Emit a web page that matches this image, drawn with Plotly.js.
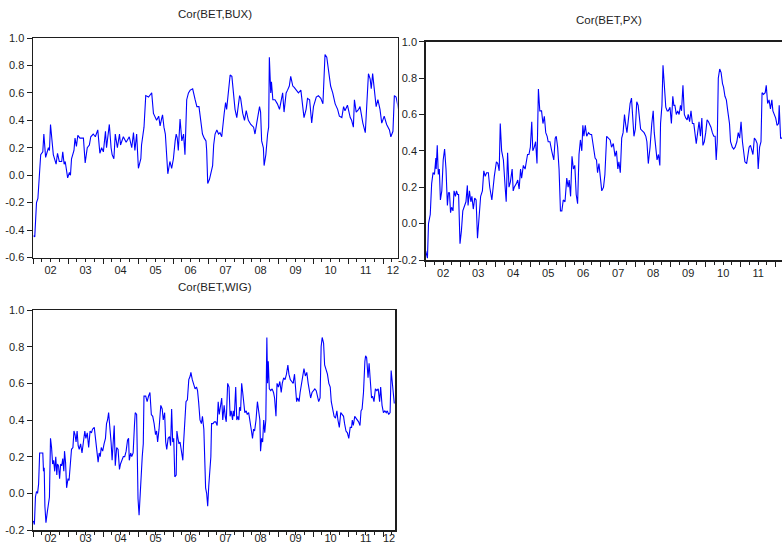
<!DOCTYPE html>
<html><head><meta charset="utf-8">
<script src="https://cdn.plot.ly/plotly-3.0.1.min.js"></script>
<style>html,body{margin:0;padding:0;background:#fff}#chart{width:782px;height:547px}</style>
</head><body><div id="chart"></div>
<script>
// ---- data (decimal year, rolling correlation) ----
const yearLabels = ["02","03","04","05","06","07","08","09","10","11","12"];
const titles = ["Cor(BET,BUX)","Cor(BET,PX)","Cor(BET,WIG)"];
const yTicksBUX = [-0.6,-0.4,-0.2,0.0,0.2,0.4,0.6,0.8,1.0];
const yTicksPX  = [-0.2,0.0,0.2,0.4,0.6,0.8,1.0];
const yTicksWIG = [-0.2,0.0,0.2,0.4,0.6,0.8,1.0];

const BUX = [[2002.02,-0.44],[2002.05,-0.45],[2002.10,-0.20],[2002.14,-0.17],[2002.22,0.15],[2002.28,0.17],[2002.31,0.30],[2002.36,0.13],[2002.44,0.20],[2002.47,0.18],[2002.50,0.37],[2002.54,0.22],[2002.58,0.15],[2002.66,0.08],[2002.70,0.16],[2002.75,0.10],[2002.82,0.10],[2002.85,0.17],[2002.89,0.08],[2002.92,0.10],[2002.99,-0.02],[2003.04,0.02],[2003.07,0.00],[2003.10,0.12],[2003.17,0.18],[2003.20,0.27],[2003.24,0.21],[2003.28,0.29],[2003.34,0.27],[2003.44,0.27],[2003.49,0.09],[2003.55,0.20],[2003.61,0.22],[2003.65,0.28],[2003.72,0.30],[2003.78,0.28],[2003.85,0.33],[2003.91,0.16],[2003.96,0.20],[2004.01,0.17],[2004.07,0.32],[2004.10,0.20],[2004.18,0.37],[2004.23,0.20],[2004.26,0.15],[2004.31,0.12],[2004.35,0.30],[2004.41,0.20],[2004.47,0.30],[2004.50,0.22],[2004.58,0.28],[2004.66,0.24],[2004.75,0.28],[2004.82,0.20],[2004.87,0.31],[2004.91,0.18],[2004.96,0.30],[2005.01,0.05],[2005.08,0.12],[2005.10,0.22],[2005.13,0.30],[2005.17,0.35],[2005.22,0.58],[2005.30,0.57],[2005.36,0.59],[2005.39,0.60],[2005.44,0.45],[2005.49,0.42],[2005.53,0.40],[2005.59,0.43],[2005.63,0.36],[2005.68,0.42],[2005.70,0.44],[2005.74,0.35],[2005.78,0.30],[2005.85,0.01],[2005.91,0.10],[2005.96,0.05],[2006.01,0.12],[2006.06,0.25],[2006.09,0.30],[2006.12,0.27],[2006.15,0.18],[2006.20,0.41],[2006.25,0.25],[2006.30,0.30],[2006.34,0.15],[2006.39,0.55],[2006.44,0.60],[2006.49,0.62],[2006.56,0.63],[2006.63,0.55],[2006.68,0.50],[2006.74,0.50],[2006.77,0.45],[2006.84,0.30],[2006.89,0.27],[2006.94,0.25],[2006.96,0.18],[2006.99,-0.06],[2007.04,-0.03],[2007.10,0.05],[2007.13,0.07],[2007.16,0.22],[2007.20,0.30],[2007.25,0.33],[2007.30,0.30],[2007.34,0.31],[2007.39,0.28],[2007.46,0.45],[2007.50,0.53],[2007.53,0.48],[2007.56,0.56],[2007.63,0.73],[2007.68,0.72],[2007.72,0.60],[2007.77,0.48],[2007.82,0.42],[2007.90,0.58],[2007.93,0.56],[2007.99,0.45],[2008.04,0.40],[2008.09,0.47],[2008.15,0.40],[2008.22,0.37],[2008.30,0.35],[2008.34,0.30],[2008.39,0.38],[2008.47,0.50],[2008.50,0.46],[2008.53,0.25],[2008.58,0.20],[2008.60,0.07],[2008.65,0.15],[2008.68,0.30],[2008.70,0.30],[2008.73,0.35],[2008.75,0.86],[2008.79,0.60],[2008.81,0.68],[2008.85,0.55],[2008.91,0.55],[2008.98,0.52],[2009.04,0.48],[2009.10,0.56],[2009.13,0.60],[2009.17,0.46],[2009.23,0.60],[2009.27,0.62],[2009.32,0.65],[2009.36,0.72],[2009.42,0.65],[2009.46,0.64],[2009.51,0.62],[2009.58,0.60],[2009.65,0.62],[2009.70,0.50],[2009.74,0.42],[2009.80,0.48],[2009.84,0.56],[2009.90,0.55],[2009.96,0.38],[2010.01,0.50],[2010.09,0.57],[2010.15,0.58],[2010.22,0.56],[2010.28,0.52],[2010.34,0.88],[2010.39,0.86],[2010.47,0.73],[2010.50,0.65],[2010.56,0.60],[2010.63,0.52],[2010.70,0.48],[2010.75,0.43],[2010.82,0.42],[2010.87,0.50],[2010.91,0.47],[2010.98,0.51],[2011.06,0.42],[2011.10,0.40],[2011.15,0.35],[2011.18,0.55],[2011.23,0.46],[2011.30,0.48],[2011.34,0.50],[2011.42,0.38],[2011.49,0.31],[2011.53,0.50],[2011.58,0.74],[2011.63,0.70],[2011.66,0.63],[2011.70,0.74],[2011.75,0.62],[2011.80,0.50],[2011.85,0.55],[2011.91,0.48],[2011.96,0.38],[2012.03,0.43],[2012.10,0.37],[2012.18,0.33],[2012.22,0.28],[2012.28,0.32],[2012.32,0.58],[2012.37,0.57],[2012.44,0.48]];

const PX = [[2002.00,-0.15],[2002.05,-0.19],[2002.08,0.00],[2002.13,0.05],[2002.17,0.22],[2002.21,0.28],[2002.25,0.27],[2002.29,0.36],[2002.30,0.30],[2002.33,0.43],[2002.36,0.27],[2002.39,0.30],[2002.42,0.13],[2002.46,0.18],[2002.50,0.35],[2002.54,0.41],[2002.58,0.30],[2002.62,0.10],[2002.65,0.17],[2002.68,0.17],[2002.71,0.06],[2002.74,0.09],[2002.78,0.07],[2002.81,0.18],[2002.85,0.15],[2002.88,0.18],[2002.91,0.16],[2002.94,0.16],[2002.98,-0.11],[2003.02,-0.04],[2003.06,0.07],[2003.10,0.09],[2003.15,0.12],[2003.19,0.21],[2003.21,0.10],[2003.25,0.18],[2003.29,0.12],[2003.32,0.15],[2003.36,0.08],[2003.40,0.14],[2003.44,0.13],[2003.48,-0.08],[2003.52,0.05],[2003.57,0.15],[2003.62,0.18],[2003.66,0.29],[2003.70,0.26],[2003.74,0.28],[2003.79,0.28],[2003.83,0.20],[2003.89,0.13],[2003.92,0.20],[2003.96,0.26],[2004.02,0.34],[2004.06,0.33],[2004.10,0.29],[2004.13,0.55],[2004.17,0.40],[2004.22,0.35],[2004.27,0.20],[2004.30,0.12],[2004.34,0.39],[2004.38,0.20],[2004.42,0.23],[2004.47,0.30],[2004.50,0.18],[2004.53,0.20],[2004.59,0.22],[2004.63,0.24],[2004.67,0.19],[2004.71,0.30],[2004.74,0.25],[2004.79,0.32],[2004.84,0.30],[2004.88,0.36],[2004.91,0.38],[2004.95,0.38],[2004.99,0.42],[2005.03,0.56],[2005.06,0.40],[2005.10,0.42],[2005.14,0.45],[2005.18,0.33],[2005.22,0.74],[2005.26,0.62],[2005.31,0.62],[2005.35,0.55],[2005.39,0.59],[2005.43,0.50],[2005.47,0.48],[2005.50,0.45],[2005.55,0.45],[2005.60,0.40],[2005.66,0.35],[2005.70,0.47],[2005.73,0.48],[2005.77,0.42],[2005.81,0.30],[2005.85,0.07],[2005.89,0.07],[2005.93,0.13],[2005.98,0.12],[2006.03,0.25],[2006.07,0.20],[2006.10,0.24],[2006.14,0.15],[2006.18,0.37],[2006.22,0.30],[2006.26,0.32],[2006.30,0.16],[2006.34,0.11],[2006.38,0.38],[2006.42,0.46],[2006.46,0.40],[2006.49,0.54],[2006.52,0.48],[2006.56,0.54],[2006.60,0.48],[2006.65,0.50],[2006.70,0.49],[2006.74,0.49],[2006.79,0.43],[2006.84,0.36],[2006.88,0.35],[2006.91,0.28],[2006.95,0.33],[2007.00,0.25],[2007.03,0.18],[2007.08,0.20],[2007.12,0.27],[2007.17,0.48],[2007.22,0.47],[2007.27,0.46],[2007.31,0.42],[2007.36,0.44],[2007.41,0.37],[2007.45,0.40],[2007.49,0.30],[2007.52,0.34],[2007.56,0.28],[2007.60,0.47],[2007.64,0.50],[2007.68,0.60],[2007.71,0.55],[2007.75,0.50],[2007.79,0.57],[2007.84,0.66],[2007.88,0.69],[2007.91,0.60],[2007.95,0.48],[2007.99,0.52],[2008.03,0.67],[2008.07,0.65],[2008.10,0.57],[2008.14,0.52],[2008.19,0.51],[2008.24,0.50],[2008.29,0.48],[2008.32,0.45],[2008.36,0.33],[2008.41,0.42],[2008.46,0.55],[2008.50,0.62],[2008.53,0.50],[2008.57,0.42],[2008.61,0.35],[2008.65,0.38],[2008.69,0.32],[2008.71,0.55],[2008.75,0.65],[2008.78,0.87],[2008.82,0.75],[2008.86,0.64],[2008.90,0.62],[2008.93,0.62],[2008.98,0.64],[2009.02,0.55],[2009.06,0.70],[2009.09,0.65],[2009.12,0.65],[2009.16,0.60],[2009.20,0.62],[2009.24,0.60],[2009.28,0.65],[2009.31,0.62],[2009.35,0.76],[2009.39,0.60],[2009.43,0.58],[2009.47,0.57],[2009.50,0.60],[2009.54,0.56],[2009.58,0.62],[2009.62,0.55],[2009.66,0.55],[2009.70,0.46],[2009.73,0.44],[2009.77,0.50],[2009.81,0.56],[2009.85,0.48],[2009.89,0.58],[2009.92,0.43],[2009.96,0.45],[2010.00,0.50],[2010.04,0.57],[2010.08,0.56],[2010.11,0.55],[2010.15,0.53],[2010.19,0.50],[2010.23,0.48],[2010.27,0.48],[2010.30,0.35],[2010.33,0.45],[2010.36,0.80],[2010.40,0.85],[2010.44,0.83],[2010.48,0.77],[2010.51,0.75],[2010.55,0.70],[2010.59,0.68],[2010.63,0.62],[2010.68,0.55],[2010.71,0.45],[2010.76,0.42],[2010.80,0.41],[2010.84,0.42],[2010.89,0.45],[2010.93,0.50],[2010.97,0.47],[2011.01,0.56],[2011.05,0.45],[2011.09,0.36],[2011.12,0.34],[2011.17,0.33],[2011.20,0.38],[2011.24,0.42],[2011.28,0.43],[2011.31,0.41],[2011.35,0.38],[2011.39,0.47],[2011.43,0.46],[2011.47,0.44],[2011.50,0.30],[2011.54,0.42],[2011.58,0.45],[2011.61,0.72],[2011.65,0.71],[2011.70,0.72],[2011.73,0.76],[2011.77,0.66],[2011.81,0.68],[2011.85,0.63],[2011.89,0.68],[2011.92,0.62],[2011.96,0.60],[2012.00,0.58],[2012.04,0.54],[2012.08,0.55],[2012.10,0.65],[2012.14,0.47],[2012.19,0.47]];

const WIG = [[2002.01,-0.15],[2002.04,-0.17],[2002.07,-0.02],[2002.10,0.01],[2002.13,0.00],[2002.16,0.05],[2002.19,0.22],[2002.24,0.22],[2002.28,0.22],[2002.30,0.12],[2002.32,0.14],[2002.34,-0.07],[2002.37,-0.16],[2002.41,-0.10],[2002.44,-0.07],[2002.47,-0.02],[2002.50,0.30],[2002.53,0.25],[2002.56,0.16],[2002.59,0.18],[2002.62,0.12],[2002.65,0.20],[2002.68,0.10],[2002.70,0.16],[2002.73,0.15],[2002.76,0.08],[2002.79,0.16],[2002.82,0.15],[2002.85,0.19],[2002.88,0.12],[2002.90,0.23],[2002.93,0.17],[2002.96,0.03],[2003.00,0.08],[2003.03,0.07],[2003.07,0.20],[2003.10,0.24],[2003.14,0.25],[2003.17,0.34],[2003.20,0.32],[2003.23,0.28],[2003.26,0.34],[2003.29,0.26],[2003.32,0.24],[2003.36,0.27],[2003.40,0.22],[2003.44,0.27],[2003.48,0.34],[2003.51,0.30],[2003.55,0.33],[2003.59,0.25],[2003.63,0.34],[2003.67,0.33],[2003.70,0.35],[2003.75,0.36],[2003.79,0.28],[2003.83,0.20],[2003.86,0.17],[2003.89,0.22],[2003.92,0.20],[2003.95,0.25],[2003.99,0.23],[2004.03,0.27],[2004.07,0.30],[2004.10,0.38],[2004.13,0.40],[2004.16,0.44],[2004.20,0.36],[2004.23,0.28],[2004.26,0.18],[2004.30,0.28],[2004.32,0.37],[2004.35,0.15],[2004.39,0.25],[2004.43,0.24],[2004.47,0.13],[2004.50,0.16],[2004.54,0.18],[2004.58,0.20],[2004.62,0.20],[2004.66,0.23],[2004.70,0.29],[2004.73,0.30],[2004.75,0.18],[2004.79,0.22],[2004.82,0.20],[2004.86,0.22],[2004.90,0.38],[2004.92,0.44],[2004.96,0.43],[2004.98,0.00],[2005.00,-0.03],[2005.03,-0.12],[2005.06,0.02],[2005.09,0.06],[2005.12,0.20],[2005.15,0.27],[2005.17,0.53],[2005.22,0.53],[2005.26,0.50],[2005.30,0.53],[2005.34,0.55],[2005.38,0.43],[2005.42,0.42],[2005.46,0.38],[2005.50,0.32],[2005.53,0.34],[2005.56,0.28],[2005.60,0.35],[2005.65,0.48],[2005.69,0.46],[2005.72,0.40],[2005.76,0.44],[2005.79,0.28],[2005.82,0.24],[2005.86,0.30],[2005.90,0.31],[2005.93,0.26],[2005.96,0.46],[2005.99,0.28],[2006.02,0.30],[2006.05,0.09],[2006.09,0.10],[2006.11,0.34],[2006.14,0.30],[2006.17,0.27],[2006.20,0.28],[2006.24,0.23],[2006.28,0.18],[2006.30,0.27],[2006.33,0.40],[2006.37,0.50],[2006.41,0.51],[2006.45,0.62],[2006.49,0.64],[2006.51,0.66],[2006.55,0.62],[2006.59,0.60],[2006.63,0.57],[2006.67,0.58],[2006.70,0.56],[2006.73,0.50],[2006.77,0.40],[2006.81,0.38],[2006.84,0.42],[2006.88,0.35],[2006.90,0.20],[2006.93,0.03],[2006.96,0.00],[2006.99,-0.07],[2007.02,0.04],[2007.05,0.10],[2007.08,0.20],[2007.10,0.38],[2007.14,0.38],[2007.18,0.39],[2007.22,0.39],[2007.26,0.37],[2007.29,0.50],[2007.32,0.43],[2007.36,0.47],[2007.39,0.52],[2007.42,0.40],[2007.46,0.48],[2007.49,0.42],[2007.52,0.39],[2007.56,0.60],[2007.60,0.58],[2007.63,0.42],[2007.66,0.45],[2007.70,0.40],[2007.72,0.45],[2007.75,0.42],[2007.79,0.58],[2007.82,0.40],[2007.85,0.42],[2007.88,0.40],[2007.90,0.47],[2007.93,0.45],[2007.96,0.60],[2007.99,0.55],[2008.02,0.48],[2008.05,0.44],[2008.09,0.45],[2008.12,0.43],[2008.16,0.44],[2008.20,0.40],[2008.24,0.34],[2008.27,0.30],[2008.30,0.35],[2008.33,0.34],[2008.37,0.40],[2008.41,0.50],[2008.45,0.45],[2008.48,0.40],[2008.50,0.23],[2008.53,0.30],[2008.56,0.28],[2008.59,0.40],[2008.62,0.33],[2008.65,0.40],[2008.68,0.85],[2008.70,0.60],[2008.72,0.72],[2008.75,0.57],[2008.79,0.56],[2008.83,0.57],[2008.87,0.55],[2008.90,0.52],[2008.94,0.42],[2008.97,0.60],[2009.01,0.58],[2009.05,0.61],[2009.09,0.55],[2009.12,0.60],[2009.16,0.63],[2009.20,0.62],[2009.24,0.65],[2009.28,0.70],[2009.31,0.65],[2009.35,0.62],[2009.39,0.61],[2009.43,0.60],[2009.47,0.65],[2009.50,0.56],[2009.53,0.50],[2009.56,0.52],[2009.60,0.50],[2009.63,0.55],[2009.67,0.60],[2009.70,0.62],[2009.74,0.68],[2009.78,0.64],[2009.82,0.66],[2009.86,0.60],[2009.90,0.55],[2009.93,0.52],[2009.97,0.55],[2010.01,0.56],[2010.05,0.57],[2010.09,0.56],[2010.12,0.53],[2010.16,0.50],[2010.20,0.52],[2010.23,0.80],[2010.26,0.85],[2010.30,0.82],[2010.33,0.70],[2010.37,0.68],[2010.41,0.65],[2010.45,0.60],[2010.49,0.58],[2010.52,0.50],[2010.56,0.45],[2010.60,0.42],[2010.64,0.41],[2010.68,0.45],[2010.71,0.40],[2010.75,0.36],[2010.79,0.44],[2010.83,0.43],[2010.87,0.42],[2010.90,0.38],[2010.94,0.34],[2010.98,0.33],[2011.02,0.30],[2011.06,0.36],[2011.10,0.36],[2011.12,0.40],[2011.15,0.37],[2011.19,0.42],[2011.23,0.41],[2011.27,0.40],[2011.30,0.39],[2011.34,0.37],[2011.37,0.45],[2011.40,0.46],[2011.44,0.55],[2011.48,0.72],[2011.50,0.75],[2011.53,0.74],[2011.57,0.63],[2011.60,0.71],[2011.63,0.60],[2011.67,0.52],[2011.70,0.53],[2011.74,0.50],[2011.78,0.57],[2011.82,0.56],[2011.86,0.57],[2011.90,0.50],[2011.93,0.58],[2011.97,0.48],[2012.01,0.44],[2012.05,0.45],[2012.09,0.44],[2012.12,0.45],[2012.16,0.43],[2012.20,0.44],[2012.23,0.67],[2012.26,0.62],[2012.30,0.52],[2012.32,0.49]];

// ---- layout geometry ----
const W = 782, H = 547;
const FONT = 'Liberation Sans, Arial, sans-serif';
const INK = '#1e1e1e';
const BLUE = 'rgb(0,0,255)';
const fx = v => v / W;
const fy = v => 1 - v / H;

const panels = [
  {data: BUX, ticks: yTicksBUX, left: 33, right: 397.5, top: 38, bottom: 257.5, end: 2012.41, last: 2012.28, mirrorY: true, title: titles[0], tx: 215, ty: 14, labLen: 2},
  {data: PX,  ticks: yTicksPX,  left: 425.7, right: 782, top: 41.7, bottom: 260, end: 2012.18, last: null, mirrorY: false, title: titles[1], tx: 609, ty: 20, labLen: 3},
  {data: WIG, ticks: yTicksWIG, left: 33, right: 395, top: 310, bottom: 530, end: 2012.34, last: 2012.17, mirrorY: true, title: titles[2], tx: 215, ty: 287, labLen: 0}
];

const traces = [];
const layout = {
  width: W, height: H, autosize: false,
  margin: {l: 0, r: 0, t: 0, b: 0, pad: 0},
  paper_bgcolor: '#fff', plot_bgcolor: '#fff',
  showlegend: false,
  font: {family: FONT, size: 11, color: INK},
  annotations: []
};

panels.forEach((p, i) => {
  const n = i + 1, m = i + 4;
  const xa = 'x' + n, ya = 'y' + n, xl = 'x' + m;
  traces.push({
    type: 'scatter', mode: 'lines',
    x: p.data.map(d => d[0]), y: p.data.map(d => d[1]),
    xaxis: xa, yaxis: ya,
    line: {color: BLUE, width: 1.1},
    hoverinfo: 'skip'
  });
  traces.push({type: 'scatter', mode: 'lines', x: [], y: [], xaxis: xl, yaxis: ya, hoverinfo: 'skip'});

  layout['xaxis' + n] = {
    domain: [fx(p.left), fx(p.right)], anchor: ya,
    range: [2002, p.end],
    tickmode: 'linear', tick0: 2002, dtick: 1,
    ticks: 'outside', ticklen: 5, tickwidth: 1, tickcolor: INK,
    showticklabels: false,
    minor: {tickmode: 'linear', tick0: 2002, dtick: 0.25, ticks: 'outside', ticklen: 3, tickwidth: 1, tickcolor: INK, showgrid: false},
    showline: true, mirror: true, linecolor: INK, linewidth: 1.5,
    showgrid: false, zeroline: false, fixedrange: true
  };
  const labVals = [];
  const labText = [];
  for (let k = 0; k < 10; k++) { labVals.push(2002.5 + k); labText.push(yearLabels[k]); }
  if (p.last !== null) { labVals.push(p.last); labText.push(yearLabels[10]); }
  layout['xaxis' + m] = {
    overlaying: xa, anchor: ya, side: 'bottom',
    range: [2002, p.end],
    tickmode: 'array', tickvals: labVals, ticktext: labText,
    ticks: p.labLen > 0 ? 'outside' : '', ticklen: p.labLen, tickcolor: 'rgba(0,0,0,0)',
    tickfont: {family: FONT, size: 11, color: INK},
    showline: false, showgrid: false, zeroline: false, fixedrange: true
  };
  layout['yaxis' + n] = {
    domain: [fy(p.bottom), fy(p.top)], anchor: xa,
    range: [p.ticks[0], p.ticks[p.ticks.length - 1]],
    tickmode: 'array', tickvals: p.ticks, ticktext: p.ticks.map(v => v.toFixed(1)),
    ticks: 'outside', ticklen: 5, tickwidth: 1, tickcolor: INK,
    tickfont: {family: FONT, size: 11, color: INK},
    showline: true, mirror: p.mirrorY, linecolor: INK, linewidth: 1.5,
    showgrid: false, zeroline: false, fixedrange: true
  };
  layout.annotations.push({
    text: p.title, xref: 'paper', yref: 'paper', x: fx(p.tx), y: fy(p.ty),
    xanchor: 'center', yanchor: 'middle', showarrow: false,
    font: {family: FONT, size: 11.5, color: INK}
  });
});

Plotly.newPlot('chart', traces, layout, {staticPlot: true, displayModeBar: false});
</script>
</body></html>
